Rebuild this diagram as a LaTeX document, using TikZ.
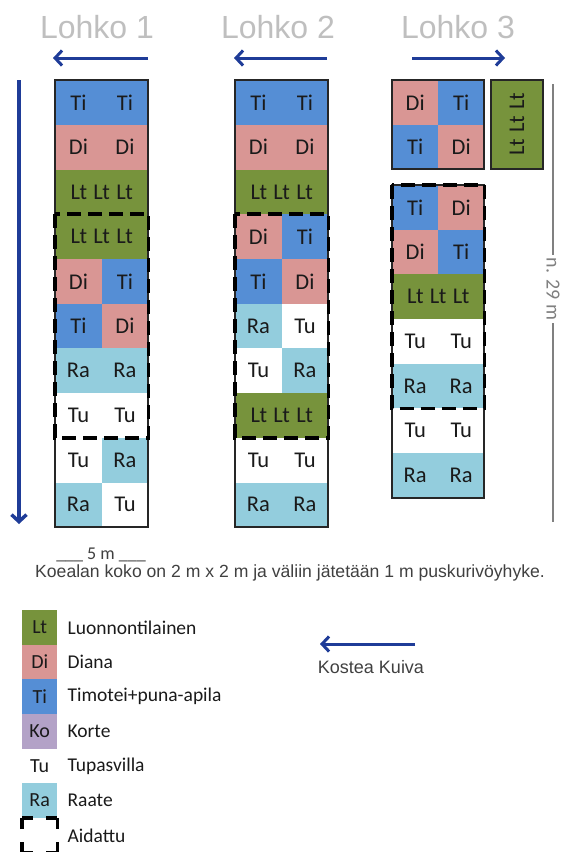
\documentclass[tikz,border=0pt]{standalone}
\usepackage{fontspec}
\newfontfamily\calib{Carlito}
\newfontfamily\arialf{Liberation Sans}
\usetikzlibrary{arrows.meta}
\definecolor{ltgreen}{HTML}{77933C}
\definecolor{dipink}{HTML}{D99694}
\definecolor{tiblue}{HTML}{558ED5}
\definecolor{kopurple}{HTML}{B3A2C7}
\definecolor{raaqua}{HTML}{93CDDD}
\definecolor{celltext}{HTML}{1A1A1A}
\definecolor{flowblue}{HTML}{1F3C98}
\definecolor{headgray}{HTML}{BFBFBF}
\definecolor{notegray}{HTML}{404040}

% one plot row: two half-width plots side by side
\newcommand\pairrow[7]{%
  \node[half, fill=#4] (#1-l) at (#2,#3) {#5};
  \node[half, fill=#6] (#1-r) at (#2+46.5,#3) {#7};}
% one plot row spanning the whole strip
\newcommand\fullrow[5]{%
  \node[full, fill=#4] (#1) at (#2,#3) {#5};}
\newcommand\ltrow{Lt\hspace{0.28em}Lt\hspace{0.28em}Lt}

\begin{document}
\begin{tikzpicture}[x=1pt,y=-1pt,
  cellbox/.style={rectangle, inner sep=0pt, anchor=north west,
    minimum height=44.7pt, text=celltext,
    font=\calib\fontsize{22.5}{26}\selectfont},
  half/.style={cellbox, minimum width=46.5pt},
  full/.style={cellbox, minimum width=93pt},
  outline/.style={draw=black!85, line width=2pt},
  fence/.style={draw=black, line width=3.5pt, dash pattern=on 14pt off 7pt},
  flow/.style={draw=flowblue, line width=3pt,
    -{Straight Barb[length=7pt,width=15pt]}},
  head/.style={font=\arialf\fontsize{32}{36}\selectfont, text=headgray, anchor=base},
  keybox/.style={rectangle, inner sep=0pt, anchor=north west,
    minimum width=35pt, minimum height=34.6pt, text=celltext,
    font=\calib\fontsize{20}{24}\selectfont},
  keylabel/.style={anchor=west, inner sep=0pt, text=celltext,
    font=\calib\fontsize{19.5}{23}\selectfont},
  keyfence/.style={draw=black, line width=3.5pt, dash pattern=on 11pt off 13pt},
]
\useasboundingbox (0,0) rectangle (573,852);

% ---- block headers and direction arrows ----
\node[head] (h1) at (97,38) {Lohko 1};
\node[head] (h2) at (278,38) {Lohko 2};
\node[head] (h3) at (458,38) {Lohko 3};
\coordinate (a1s) at (148,58); \coordinate (a1e) at (53,58);
\coordinate (a2s) at (327,58); \coordinate (a2e) at (234,58);
\coordinate (a3s) at (412,58); \coordinate (a3e) at (505,58);
\draw[flow] (a1s) -- (a1e);
\draw[flow] (a2s) -- (a2e);
\draw[flow] (a3s) -- (a3e);

% slope arrow on the left
\coordinate (ftop) at (19,80); \coordinate (fbot) at (19,524);
\draw[flow, line width=3.5pt] (ftop) -- (fbot);

% ---- Lohko 1 ----
\pairrow{b1r1}{55}{80}{tiblue}{Ti}{tiblue}{Ti}
\pairrow{b1r2}{55}{124.7}{dipink}{Di}{dipink}{Di}
\fullrow{b1r3}{55}{169.4}{ltgreen}{\ltrow}
\fullrow{b1r4}{55}{214.1}{ltgreen}{\ltrow}
\pairrow{b1r5}{55}{258.8}{dipink}{Di}{tiblue}{Ti}
\pairrow{b1r6}{55}{303.5}{tiblue}{Ti}{dipink}{Di}
\pairrow{b1r7}{55}{348.2}{raaqua}{Ra}{raaqua}{Ra}
\pairrow{b1r8}{55}{392.9}{white}{Tu}{white}{Tu}
\pairrow{b1r9}{55}{437.6}{white}{Tu}{raaqua}{Ra}
\pairrow{b1r10}{55}{482.3}{raaqua}{Ra}{white}{Tu}
\draw[outline] (b1r1-l.north west) rectangle (b1r10-r.south east);
\draw[fence] (b1r4.north west) rectangle (b1r8-r.south east);

% ---- Lohko 2 ----
\pairrow{b2r1}{235}{80}{tiblue}{Ti}{tiblue}{Ti}
\pairrow{b2r2}{235}{124.7}{dipink}{Di}{dipink}{Di}
\fullrow{b2r3}{235}{169.4}{ltgreen}{\ltrow}
\pairrow{b2r4}{235}{214.1}{dipink}{Di}{tiblue}{Ti}
\pairrow{b2r5}{235}{258.8}{tiblue}{Ti}{dipink}{Di}
\pairrow{b2r6}{235}{303.5}{raaqua}{Ra}{white}{Tu}
\pairrow{b2r7}{235}{348.2}{white}{Tu}{raaqua}{Ra}
\fullrow{b2r8}{235}{392.9}{ltgreen}{\ltrow}
\pairrow{b2r9}{235}{437.6}{white}{Tu}{white}{Tu}
\pairrow{b2r10}{235}{482.3}{raaqua}{Ra}{raaqua}{Ra}
\draw[outline] (b2r1-l.north west) rectangle (b2r10-r.south east);
\draw[fence] (b2r4-l.north west) rectangle (b2r8.south east);

% ---- Lohko 3, upper plots ----
\begin{scope}[half/.append style={minimum width=46pt, minimum height=44.5pt}]
\node[half, fill=dipink] (b3u1-l) at (392,80) {Di};
\node[half, fill=tiblue] (b3u1-r) at (438,80) {Ti};
\node[half, fill=tiblue] (b3u2-l) at (392,124.5) {Ti};
\node[half, fill=dipink] (b3u2-r) at (438,124.5) {Di};
\end{scope}
\draw[outline] (b3u1-l.north west) rectangle (b3u2-r.south east);
\node[cellbox, anchor=center, rotate=90, fill=ltgreen, outline,
  minimum width=89pt, minimum height=52pt] (b3lt) at (517,124.5) {\ltrow};

% ---- Lohko 3, lower plots ----
\begin{scope}[half/.append style={minimum width=46pt, minimum height=44.6pt},
              full/.append style={minimum width=92pt, minimum height=44.6pt}]
\node[half, fill=tiblue] (b3r1-l) at (392,185) {Ti};
\node[half, fill=dipink] (b3r1-r) at (438,185) {Di};
\node[half, fill=dipink] (b3r2-l) at (392,229.6) {Di};
\node[half, fill=tiblue] (b3r2-r) at (438,229.6) {Ti};
\fullrow{b3r3}{392}{274.2}{ltgreen}{\ltrow}
\node[half, fill=white] (b3r4-l) at (392,318.8) {Tu};
\node[half, fill=white] (b3r4-r) at (438,318.8) {Tu};
\node[half, fill=raaqua] (b3r5-l) at (392,363.4) {Ra};
\node[half, fill=raaqua] (b3r5-r) at (438,363.4) {Ra};
\node[half, fill=white] (b3r6-l) at (392,408) {Tu};
\node[half, fill=white] (b3r6-r) at (438,408) {Tu};
\node[half, fill=raaqua] (b3r7-l) at (392,452.6) {Ra};
\node[half, fill=raaqua] (b3r7-r) at (438,452.6) {Ra};
\end{scope}
\draw[outline] (b3r1-l.north west) rectangle (b3r7-r.south east);
\draw[fence] (b3r1-l.north west) rectangle (b3r5-r.south east);

% ---- length of the field ----
\node[rotate=-90, text=gray, font=\calib\fontsize{20}{24}\selectfont,
  inner sep=3pt] (len) at (553,289) {n. 29 m};
\coordinate (ltop) at (553,84); \coordinate (lbot) at (553,522);
\draw[gray, line width=1.5pt] (ltop) -- (len.west);
\draw[gray, line width=1.5pt] (len.east) -- (lbot);

% ---- width and plot notes ----
\node[anchor=base, inner sep=0pt, text=notegray,
  font=\calib\fontsize{18}{20}\selectfont]
  (width) at (101,559) {\_\_\_ 5 m \_\_\_};
\node[anchor=base west, inner sep=0pt, text=notegray,
  font=\arialf\fontsize{17.6}{20}\selectfont] (note) at (35,577)
  {Koealan koko on 2 m x 2 m ja väliin jätetään 1 m puskurivöyhyke.};

% ---- legend ----
\node[keybox, fill=ltgreen] (k1) at (22,610) {Lt};
\node[keybox, fill=dipink] (k2) at (22,644.6) {Di};
\node[keybox, fill=tiblue] (k3) at (22,679.2) {Ti};
\node[keybox, fill=kopurple] (k4) at (22,713.8) {Ko};
\node[keybox, fill=white] (k5) at (22,748.4) {Tu};
\node[keybox, fill=raaqua] (k6) at (22,783) {Ra};
\node[keybox] (k7) at (22,818) {};
\draw[keyfence] (k7.north west) -- (k7.north east);
\draw[keyfence] (k7.north east) -- (k7.south east);
\draw[keyfence] (k7.south east) -- (k7.south west);
\draw[keyfence] (k7.south west) -- (k7.north west);
\node[keylabel] (l1) at ([xshift=10pt]k1.east) {Luonnontilainen};
\node[keylabel] (l2) at ([xshift=10pt]k2.east) {Diana};
\node[keylabel] (l3) at ([xshift=10pt]k3.east) {Timotei+puna-apila};
\node[keylabel] (l4) at ([xshift=10pt]k4.east) {Korte};
\node[keylabel] (l5) at ([xshift=10pt]k5.east) {Tupasvilla};
\node[keylabel] (l6) at ([xshift=10pt]k6.east) {Raate};
\node[keylabel] (l7) at ([xshift=10pt]k7.east) {Aidattu};

% ---- moisture direction ----
\coordinate (ms) at (415,644); \coordinate (me) at (320,644);
\draw[flow] (ms) -- (me);
\node[text=notegray, font=\arialf\fontsize{18}{21}\selectfont] (moist)
  at (371,667) {Kostea Kuiva};
\end{tikzpicture}
\end{document}
